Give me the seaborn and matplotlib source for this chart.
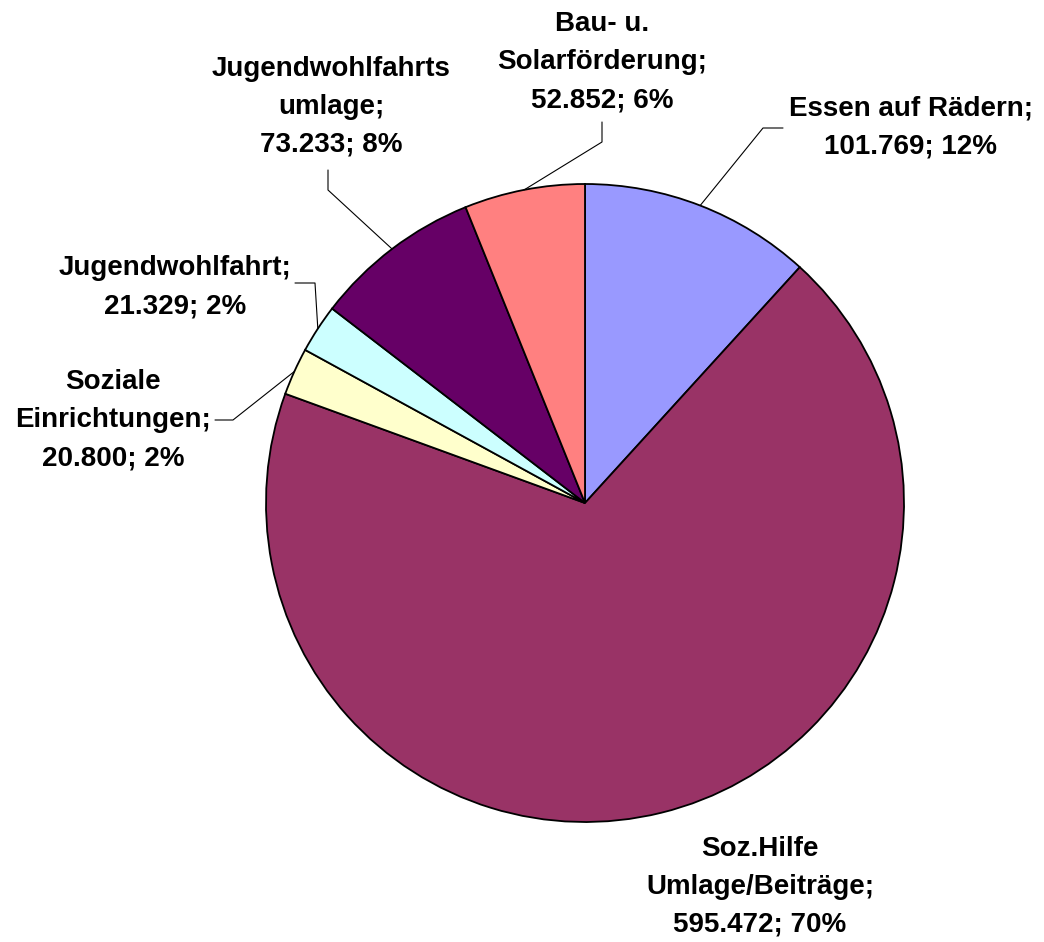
import seaborn as sns
import matplotlib.pyplot as plt
import numpy as np

# data (German number format in the labels)
categories = ["Essen auf Rädern", "Soz.Hilfe\nUmlage/Beiträge", "Soziale\nEinrichtungen",
              "Jugendwohlfahrt", "Jugendwohlfahrts\numlage", "Bau- u.\nSolarförderung"]
values = [101769, 595472, 20800, 21329, 73233, 52852]
value_labels = ["101.769", "595.472", "20.800", "21.329", "73.233", "52.852"]
pct_labels = ["12%", "70%", "2%", "2%", "8%", "6%"]
colors = ["#9999FF", "#993366", "#FFFFCC", "#CCFFFF", "#660066", "#FF8080"]

sns.set_theme(style="white")
plt.rcParams['font.family'] = ['Liberation Sans', 'DejaVu Sans']

W, H = 1044, 942
fig = plt.figure(figsize=(W / 100, H / 100), dpi=100)
ax = fig.add_axes([0, 0, 1, 1])

def Y(y):
    return H - y

cx, cy, r = 585, 503, 319
wedges, _ = ax.pie(values, colors=colors, startangle=90, counterclock=False,
                   center=(cx, Y(cy)), radius=r, frame=True,
                   wedgeprops=dict(edgecolor='black', linewidth=1.3))
ax.set_xlim(0, W)
ax.set_ylim(0, H)
ax.set_aspect('equal')
ax.axis('off')

# label placement (pixel coords), elbow + end of leader line
layout = [
    ((911, 128), [(763, 128), (783, 128)]),
    ((760, 887), None),
    ((113, 420), [(233, 420), (215, 420)]),
    ((175, 287), [(315, 283), (295, 283)]),
    ((331, 107), [(328, 190), (328, 170)]),
    ((602, 62), [(602, 142), (602, 122)]),
]

for w, cat, v, p, (pos, leader) in zip(wedges, categories, value_labels, pct_labels, layout):
    txt = f"{cat};\n{v}; {p}"
    ax.text(pos[0], Y(pos[1]), txt, ha='center', va='center', multialignment='center',
            fontsize=20, fontweight='bold', color='black', linespacing=1.6)
    if leader:
        mid = np.deg2rad((w.theta1 + w.theta2) / 2)
        xs = [cx + r * np.cos(mid)] + [q[0] for q in leader]
        ys = [Y(cy) + r * np.sin(mid)] + [Y(q[1]) for q in leader]
        ax.plot(xs, ys, color='black', linewidth=0.8)

fig.savefig("out.png", dpi=100, facecolor='white')
